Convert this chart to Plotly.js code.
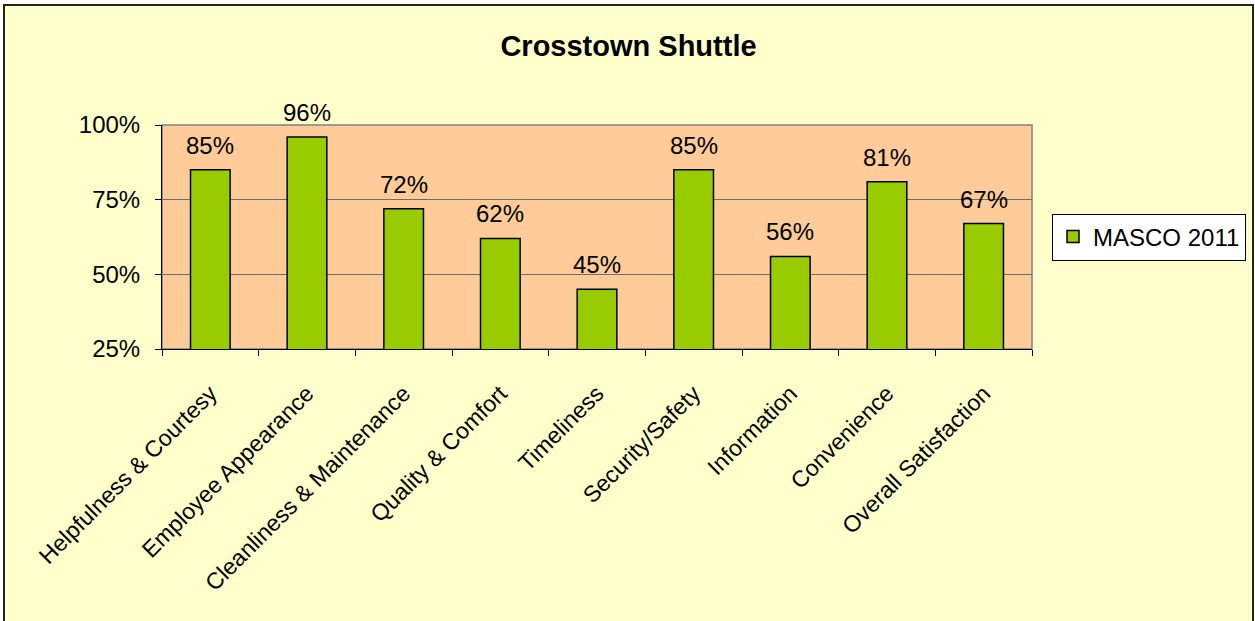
<!DOCTYPE html>
<html>
<head>
<meta charset="utf-8">
<script src="https://cdn.plot.ly/plotly-3.0.1.min.js"></script>
<style>
  html, body { margin: 0; padding: 0; background: #ffffff; }
  #frame { position: absolute; left: 3px; top: 4px; width: 1247px; height: 615px;
           border-left: 2px solid #222; border-top: 2px solid #222; border-right: 2px solid #222; }
  #chart { width: 1247px; height: 615px; }
</style>
</head>
<body>
<div id="frame"><div id="chart"></div></div>
<script>
const categories = ["Helpfulness & Courtesy", "Employee Appearance", "Cleanliness & Maintenance",
  "Quality & Comfort", "Timeliness", "Security/Safety", "Information", "Convenience", "Overall Satisfaction"];
const values = [0.85, 0.96, 0.72, 0.62, 0.45, 0.85, 0.56, 0.81, 0.67];
const seriesName = "MASCO 2011";
const chartTitle = "Crosstown Shuttle";
const yTicks = [0.25, 0.5, 0.75, 1.0];
const yTickLabels = ["25%", "50%", "75%", "100%"];

const FONT = "Liberation Sans, Arial, sans-serif";

const trace = {
  type: "bar",
  x: categories,
  y: values,
  name: seriesName,
  marker: { color: "#99CC00", line: { color: "#000000", width: 1.5 } },
  showlegend: true,
  hoverinfo: "x+y"
};

const annotations = categories.map((c, i) => ({
  x: c, y: values[i], xref: "x", yref: "y",
  text: Math.round(values[i] * 100) + "%",
  showarrow: false, yanchor: "bottom", yshift: 9,
  font: { family: FONT, size: 24, color: "#000" }
}));

const layout = {
  width: 1247, height: 615,
  paper_bgcolor: "#FFFFCC",
  plot_bgcolor: "#FFCC99",
  margin: { l: 157, r: 220, t: 119, b: 272, autoexpand: false },
  title: { text: "<b>" + chartTitle + "</b>", font: { family: FONT, size: 29, color: "#000" },
           x: 0.5, xref: "container", xanchor: "center", y: 0.935, yref: "container", yanchor: "middle" },
  font: { family: FONT, color: "#000" },
  bargap: 0.59,
  xaxis: {
    type: "category",
    tickangle: -45,
    tickson: "boundaries",
    ticks: "outside", ticklen: 6, tickcolor: "#000",
    ticklabelstandoff: 21,
    automargin: false,
    showline: true, linecolor: "#000", linewidth: 1,
    showgrid: false,
    tickfont: { family: FONT, size: 23, color: "#000" }
  },
  yaxis: {
    range: [0.25, 1.0],
    tickvals: yTicks, ticktext: yTickLabels,
    ticks: "outside", ticklen: 6, tickcolor: "#000",
    ticklabelstandoff: 10,
    automargin: false,
    showline: true, linecolor: "#000", linewidth: 1,
    showgrid: true, gridcolor: "#6e6e6e", gridwidth: 1,
    zeroline: false,
    tickfont: { family: FONT, size: 24, color: "#000" }
  },
  legend: {
    x: 1.023, xanchor: "left", y: 0.5, yanchor: "middle",
    bgcolor: "#FFFFFF", bordercolor: "#000", borderwidth: 1,
    font: { family: FONT, size: 24, color: "#000" }
  },
  shapes: [{
    type: "rect", xref: "paper", yref: "paper", x0: 0, x1: 1, y0: 0, y1: 1,
    line: { color: "#808080", width: 1.5 }, layer: "below"
  }],
  annotations: annotations
};

Plotly.newPlot("chart", [trace], layout, { displayModeBar: false, staticPlot: true });
</script>
</body>
</html>
